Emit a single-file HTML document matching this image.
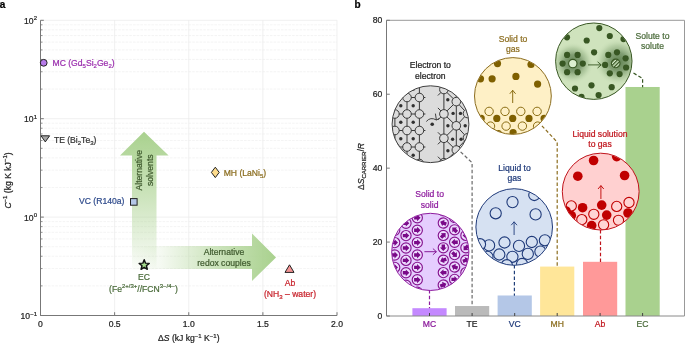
<!DOCTYPE html>
<html><head><meta charset="utf-8"><style>
html,body{margin:0;padding:0;background:#fff;}
body{width:685px;height:343px;overflow:hidden;}
svg{display:block;will-change:transform;}
text{font-family:"Liberation Sans",sans-serif;}
</style></head><body>
<svg width="685" height="343" viewBox="0 0 685 343" font-family="Liberation Sans, sans-serif">
<defs>
<linearGradient id="gv" gradientUnits="userSpaceOnUse" x1="0" y1="272" x2="0" y2="131.7"><stop offset="0" stop-color="#a9d18e" stop-opacity="0"/><stop offset="0.2" stop-color="#a9d18e" stop-opacity="0.25"/><stop offset="0.55" stop-color="#a9d18e" stop-opacity="0.6"/><stop offset="1" stop-color="#a9d18e" stop-opacity="1"/></linearGradient>
<linearGradient id="gh" gradientUnits="userSpaceOnUse" x1="132" y1="0" x2="276" y2="0"><stop offset="0" stop-color="#a9d18e" stop-opacity="0"/><stop offset="0.2" stop-color="#a9d18e" stop-opacity="0.12"/><stop offset="0.55" stop-color="#a9d18e" stop-opacity="0.55"/><stop offset="1" stop-color="#a9d18e" stop-opacity="1"/></linearGradient>
<clipPath id="cg"><circle cx="430.5" cy="124.2" r="38.1"/></clipPath><clipPath id="cy"><circle cx="512.9" cy="96.0" r="38.1"/></clipPath><clipPath id="ce"><circle cx="593.8" cy="61.2" r="37.900000000000006"/></clipPath><radialGradient id="halo"><stop offset="0" stop-color="#587a48" stop-opacity="0.95"/><stop offset="0.4" stop-color="#67875a" stop-opacity="0.75"/><stop offset="0.72" stop-color="#8fae7f" stop-opacity="0.38"/><stop offset="1" stop-color="#cfe3bd" stop-opacity="0"/></radialGradient><pattern id="stripe" width="2.6" height="2.6" patternUnits="userSpaceOnUse" patternTransform="rotate(45)"><rect width="2.6" height="2.6" fill="#d8eecb"/><rect width="1.3" height="2.6" fill="#385723"/></pattern><clipPath id="cr"><circle cx="600.7" cy="191.6" r="38.1"/></clipPath><clipPath id="cl"><circle cx="514.2" cy="227.0" r="38.0"/></clipPath><clipPath id="cp"><circle cx="430.3" cy="251.9" r="38.300000000000004"/></clipPath></defs>
<rect width="685" height="343" fill="#fff"/>
<line x1="40.5" x2="337.0" y1="285.88" y2="285.88" stroke="#ececec" stroke-width="0.6" stroke-dasharray="2.6 1.1"/>
<line x1="40.5" x2="337.0" y1="268.55" y2="268.55" stroke="#ececec" stroke-width="0.6" stroke-dasharray="2.6 1.1"/>
<line x1="40.5" x2="337.0" y1="256.26" y2="256.26" stroke="#ececec" stroke-width="0.6" stroke-dasharray="2.6 1.1"/>
<line x1="40.5" x2="337.0" y1="246.72" y2="246.72" stroke="#ececec" stroke-width="0.6" stroke-dasharray="2.6 1.1"/>
<line x1="40.5" x2="337.0" y1="238.93" y2="238.93" stroke="#ececec" stroke-width="0.6" stroke-dasharray="2.6 1.1"/>
<line x1="40.5" x2="337.0" y1="232.34" y2="232.34" stroke="#ececec" stroke-width="0.6" stroke-dasharray="2.6 1.1"/>
<line x1="40.5" x2="337.0" y1="226.64" y2="226.64" stroke="#ececec" stroke-width="0.6" stroke-dasharray="2.6 1.1"/>
<line x1="40.5" x2="337.0" y1="221.60" y2="221.60" stroke="#ececec" stroke-width="0.6" stroke-dasharray="2.6 1.1"/>
<line x1="40.5" x2="337.0" y1="187.48" y2="187.48" stroke="#ececec" stroke-width="0.6" stroke-dasharray="2.6 1.1"/>
<line x1="40.5" x2="337.0" y1="170.15" y2="170.15" stroke="#ececec" stroke-width="0.6" stroke-dasharray="2.6 1.1"/>
<line x1="40.5" x2="337.0" y1="157.86" y2="157.86" stroke="#ececec" stroke-width="0.6" stroke-dasharray="2.6 1.1"/>
<line x1="40.5" x2="337.0" y1="148.32" y2="148.32" stroke="#ececec" stroke-width="0.6" stroke-dasharray="2.6 1.1"/>
<line x1="40.5" x2="337.0" y1="140.53" y2="140.53" stroke="#ececec" stroke-width="0.6" stroke-dasharray="2.6 1.1"/>
<line x1="40.5" x2="337.0" y1="133.94" y2="133.94" stroke="#ececec" stroke-width="0.6" stroke-dasharray="2.6 1.1"/>
<line x1="40.5" x2="337.0" y1="128.24" y2="128.24" stroke="#ececec" stroke-width="0.6" stroke-dasharray="2.6 1.1"/>
<line x1="40.5" x2="337.0" y1="123.20" y2="123.20" stroke="#ececec" stroke-width="0.6" stroke-dasharray="2.6 1.1"/>
<line x1="40.5" x2="337.0" y1="89.08" y2="89.08" stroke="#ececec" stroke-width="0.6" stroke-dasharray="2.6 1.1"/>
<line x1="40.5" x2="337.0" y1="71.75" y2="71.75" stroke="#ececec" stroke-width="0.6" stroke-dasharray="2.6 1.1"/>
<line x1="40.5" x2="337.0" y1="59.46" y2="59.46" stroke="#ececec" stroke-width="0.6" stroke-dasharray="2.6 1.1"/>
<line x1="40.5" x2="337.0" y1="49.92" y2="49.92" stroke="#ececec" stroke-width="0.6" stroke-dasharray="2.6 1.1"/>
<line x1="40.5" x2="337.0" y1="42.13" y2="42.13" stroke="#ececec" stroke-width="0.6" stroke-dasharray="2.6 1.1"/>
<line x1="40.5" x2="337.0" y1="35.54" y2="35.54" stroke="#ececec" stroke-width="0.6" stroke-dasharray="2.6 1.1"/>
<line x1="40.5" x2="337.0" y1="29.84" y2="29.84" stroke="#ececec" stroke-width="0.6" stroke-dasharray="2.6 1.1"/>
<line x1="40.5" x2="337.0" y1="24.80" y2="24.80" stroke="#ececec" stroke-width="0.6" stroke-dasharray="2.6 1.1"/>
<line x1="40.5" x2="337.0" y1="217.10" y2="217.10" stroke="#e9e9e9" stroke-width="0.7"/>
<line x1="40.5" x2="337.0" y1="118.70" y2="118.70" stroke="#e9e9e9" stroke-width="0.7"/>
<line x1="40.5" x2="337.0" y1="20.30" y2="20.30" stroke="#e9e9e9" stroke-width="0.7"/>
<line x1="114.62" x2="114.62" y1="20.3" y2="315.5" stroke="#e9e9e9" stroke-width="0.7"/>
<line x1="188.75" x2="188.75" y1="20.3" y2="315.5" stroke="#e9e9e9" stroke-width="0.7"/>
<line x1="262.88" x2="262.88" y1="20.3" y2="315.5" stroke="#e9e9e9" stroke-width="0.7"/>
<line x1="337.00" x2="337.00" y1="20.3" y2="315.5" stroke="#e9e9e9" stroke-width="0.7"/>
<path d="M132,270 L132,155.6 L120,155.6 L144,131.7 L168.6,155.6 L156.5,155.6 L156.5,270 Z" fill="url(#gv)"/>
<path d="M132,246 L252,246 L252,233.6 L276,257.4 L252,281 L252,269 L132,269 Z" fill="url(#gh)"/>
<line x1="40.5" x2="40.5" y1="20.3" y2="315.5" stroke="#777" stroke-width="1"/>
<line x1="40.5" x2="337.0" y1="315.5" y2="315.5" stroke="#777" stroke-width="1"/>
<line x1="40.5" x2="43.8" y1="315.50" y2="315.50" stroke="#777" stroke-width="1"/>
<line x1="40.5" x2="43.8" y1="217.10" y2="217.10" stroke="#777" stroke-width="1"/>
<line x1="40.5" x2="43.8" y1="118.70" y2="118.70" stroke="#777" stroke-width="1"/>
<line x1="40.5" x2="43.8" y1="20.30" y2="20.30" stroke="#777" stroke-width="1"/>
<line x1="40.5" x2="42.5" y1="285.88" y2="285.88" stroke="#777" stroke-width="0.8"/>
<line x1="40.5" x2="42.5" y1="268.55" y2="268.55" stroke="#777" stroke-width="0.8"/>
<line x1="40.5" x2="42.5" y1="256.26" y2="256.26" stroke="#777" stroke-width="0.8"/>
<line x1="40.5" x2="42.5" y1="246.72" y2="246.72" stroke="#777" stroke-width="0.8"/>
<line x1="40.5" x2="42.5" y1="238.93" y2="238.93" stroke="#777" stroke-width="0.8"/>
<line x1="40.5" x2="42.5" y1="232.34" y2="232.34" stroke="#777" stroke-width="0.8"/>
<line x1="40.5" x2="42.5" y1="226.64" y2="226.64" stroke="#777" stroke-width="0.8"/>
<line x1="40.5" x2="42.5" y1="221.60" y2="221.60" stroke="#777" stroke-width="0.8"/>
<line x1="40.5" x2="42.5" y1="187.48" y2="187.48" stroke="#777" stroke-width="0.8"/>
<line x1="40.5" x2="42.5" y1="170.15" y2="170.15" stroke="#777" stroke-width="0.8"/>
<line x1="40.5" x2="42.5" y1="157.86" y2="157.86" stroke="#777" stroke-width="0.8"/>
<line x1="40.5" x2="42.5" y1="148.32" y2="148.32" stroke="#777" stroke-width="0.8"/>
<line x1="40.5" x2="42.5" y1="140.53" y2="140.53" stroke="#777" stroke-width="0.8"/>
<line x1="40.5" x2="42.5" y1="133.94" y2="133.94" stroke="#777" stroke-width="0.8"/>
<line x1="40.5" x2="42.5" y1="128.24" y2="128.24" stroke="#777" stroke-width="0.8"/>
<line x1="40.5" x2="42.5" y1="123.20" y2="123.20" stroke="#777" stroke-width="0.8"/>
<line x1="40.5" x2="42.5" y1="89.08" y2="89.08" stroke="#777" stroke-width="0.8"/>
<line x1="40.5" x2="42.5" y1="71.75" y2="71.75" stroke="#777" stroke-width="0.8"/>
<line x1="40.5" x2="42.5" y1="59.46" y2="59.46" stroke="#777" stroke-width="0.8"/>
<line x1="40.5" x2="42.5" y1="49.92" y2="49.92" stroke="#777" stroke-width="0.8"/>
<line x1="40.5" x2="42.5" y1="42.13" y2="42.13" stroke="#777" stroke-width="0.8"/>
<line x1="40.5" x2="42.5" y1="35.54" y2="35.54" stroke="#777" stroke-width="0.8"/>
<line x1="40.5" x2="42.5" y1="29.84" y2="29.84" stroke="#777" stroke-width="0.8"/>
<line x1="40.5" x2="42.5" y1="24.80" y2="24.80" stroke="#777" stroke-width="0.8"/>
<line x1="40.50" x2="40.50" y1="315.5" y2="312.2" stroke="#777" stroke-width="1"/>
<line x1="114.62" x2="114.62" y1="315.5" y2="312.2" stroke="#777" stroke-width="1"/>
<line x1="188.75" x2="188.75" y1="315.5" y2="312.2" stroke="#777" stroke-width="1"/>
<line x1="262.88" x2="262.88" y1="315.5" y2="312.2" stroke="#777" stroke-width="1"/>
<line x1="337.00" x2="337.00" y1="315.5" y2="312.2" stroke="#777" stroke-width="1"/>
<text x="37.0" y="23.90" font-size="8.6" text-anchor="end" fill="#222" stroke="#222" stroke-width="0.22">10<tspan font-size="6" dy="-3.6">2</tspan></text>
<text x="37.0" y="122.30" font-size="8.6" text-anchor="end" fill="#222" stroke="#222" stroke-width="0.22">10<tspan font-size="6" dy="-3.6">1</tspan></text>
<text x="37.0" y="220.70" font-size="8.6" text-anchor="end" fill="#222" stroke="#222" stroke-width="0.22">10<tspan font-size="6" dy="-3.6">0</tspan></text>
<text x="37.0" y="319.10" font-size="8.6" text-anchor="end" fill="#222" stroke="#222" stroke-width="0.22">10<tspan font-size="6" dy="-3.6">−1</tspan></text>
<text x="40.50" y="326.6" font-size="8.6" text-anchor="middle" fill="#222" stroke="#222" stroke-width="0.22">0</text>
<text x="114.62" y="326.6" font-size="8.6" text-anchor="middle" fill="#222" stroke="#222" stroke-width="0.22">0.5</text>
<text x="188.75" y="326.6" font-size="8.6" text-anchor="middle" fill="#222" stroke="#222" stroke-width="0.22">1.0</text>
<text x="262.88" y="326.6" font-size="8.6" text-anchor="middle" fill="#222" stroke="#222" stroke-width="0.22">1.5</text>
<text x="337.00" y="326.6" font-size="8.6" text-anchor="middle" fill="#222" stroke="#222" stroke-width="0.22">2.0</text>
<text x="188.8" y="341" font-size="8.6" text-anchor="middle" fill="#222" stroke="#222" stroke-width="0.22">Δ<tspan font-style="italic">S</tspan> (kJ kg<tspan font-size="6" dy="-3.4">−1</tspan><tspan dy="3.4"> K</tspan><tspan font-size="6" dy="-3.4">−1</tspan><tspan dy="3.4">)</tspan></text>
<text transform="translate(10.5,180.5) rotate(-90)" font-size="8.6" text-anchor="middle" fill="#222" stroke="#222" stroke-width="0.22"><tspan font-style="italic">C</tspan><tspan font-size="6" dy="-3.4">−1</tspan><tspan dy="3.4"> (kg K kJ</tspan><tspan font-size="6" dy="-3.4">−1</tspan><tspan dy="3.4">)</tspan></text>
<text x="-0.3" y="7.7" font-size="10" font-weight="bold" fill="#000" stroke="#000" stroke-width="0.22">a</text>
<text x="354.5" y="7.8" font-size="10" font-weight="bold" fill="#000" stroke="#000" stroke-width="0.22">b</text>
<circle cx="43.7" cy="62.8" r="3.4" fill="#b67ae8" stroke="#222" stroke-width="1"/>
<text x="52.5" y="66.3" font-size="8.6" fill="#9b2fae" stroke="#9b2fae" stroke-width="0.22">MC (Gd<tspan font-size="6" dy="2">5</tspan><tspan dy="-2">Si</tspan><tspan font-size="6" dy="2">2</tspan><tspan dy="-2">Ge</tspan><tspan font-size="6" dy="2">2</tspan><tspan dy="-2">)</tspan></text>
<path d="M41,135.8 L49.6,135.8 L45.3,141.9 Z" fill="#a6a6a6" stroke="#222" stroke-width="1" stroke-linejoin="miter"/>
<text x="53.9" y="142.6" font-size="8.6" fill="#333" stroke="#333" stroke-width="0.22">TE (Bi<tspan font-size="6" dy="2">2</tspan><tspan dy="-2">Te</tspan><tspan font-size="6" dy="2">3</tspan><tspan dy="-2">)</tspan></text>
<rect x="130.5" y="198.6" width="6.6" height="6.6" fill="#b4c7e7" stroke="#222" stroke-width="1"/>
<text x="79" y="204.4" font-size="8.6" fill="#2f4b8c" stroke="#2f4b8c" stroke-width="0.22">VC (R140a)</text>
<path d="M215.3,167.2 L219.2,172.4 L215.3,177.6 L211.4,172.4 Z" fill="#fedc8c" stroke="#222" stroke-width="1"/>
<text x="223.7" y="176.3" font-size="8.6" fill="#8b6d1e" stroke="#8b6d1e" stroke-width="0.22">MH (LaNi<tspan font-size="6" dy="2">5</tspan><tspan dy="-2">)</tspan></text>
<path d="M144.20,259.70 L145.55,263.14 L149.24,263.36 L146.39,265.71 L147.32,269.29 L144.20,267.30 L141.08,269.29 L142.01,265.71 L139.16,263.36 L142.85,263.14 Z" fill="#a5dc8c" stroke="#111" stroke-width="1.45" stroke-linejoin="round"/>
<text x="144" y="279.7" font-size="8.6" text-anchor="middle" fill="#4a6b3a" stroke="#4a6b3a" stroke-width="0.22">EC</text>
<text x="143.5" y="291.5" font-size="8.6" text-anchor="middle" fill="#4a6b3a" stroke="#4a6b3a" stroke-width="0.22">(Fe<tspan font-size="6" dy="-3.4">2+/3+</tspan><tspan dy="3.4">//FCN</tspan><tspan font-size="6" dy="-3.4">3−/4−</tspan><tspan dy="3.4">)</tspan></text>
<path d="M289.5,264.8 L294,272.4 L285,272.4 Z" fill="#f49494" stroke="#222" stroke-width="1"/>
<text x="290" y="286.2" font-size="8.6" text-anchor="middle" fill="#c8232c" stroke="#c8232c" stroke-width="0.22">Ab</text>
<text x="290" y="297" font-size="8.6" text-anchor="middle" fill="#c8232c" stroke="#c8232c" stroke-width="0.22">(NH<tspan font-size="6" dy="2">3</tspan><tspan dy="-2"> – water)</tspan></text>
<text transform="translate(142.3,170.2) rotate(-90)" font-size="8.6" text-anchor="middle" fill="#3f5a2e" stroke="#3f5a2e" stroke-width="0.22">Alternative</text>
<text transform="translate(153.2,170.2) rotate(-90)" font-size="8.6" text-anchor="middle" fill="#3f5a2e" stroke="#3f5a2e" stroke-width="0.22">solvents</text>
<text x="224" y="255.1" font-size="8.6" text-anchor="middle" fill="#3f5a2e" stroke="#3f5a2e" stroke-width="0.22">Alternative</text>
<text x="224" y="265.7" font-size="8.6" text-anchor="middle" fill="#3f5a2e" stroke="#3f5a2e" stroke-width="0.22">redox couples</text>
<line x1="386.5" x2="684.5" y1="20.3" y2="20.3" stroke="#999" stroke-width="1"/>
<line x1="684.5" x2="684.5" y1="20.3" y2="316.0" stroke="#999" stroke-width="1"/>
<rect x="412.40" y="308.20" width="34.2" height="7.80" fill="#c489ff"/>
<rect x="455.00" y="306.02" width="34.2" height="9.98" fill="#bababa"/>
<rect x="497.60" y="295.49" width="34.2" height="20.51" fill="#b4c7e7"/>
<rect x="540.10" y="266.58" width="34.2" height="49.42" fill="#ffe699"/>
<rect x="583.00" y="261.81" width="34.2" height="54.19" fill="#ff9999"/>
<rect x="625.50" y="86.98" width="34.2" height="229.02" fill="#a9d18e"/>
<path d="M429.50,290.00 L429.50,308.20" fill="none" stroke="#8e1c9e" stroke-width="1.2" stroke-dasharray="3.5 2.2"/>
<path d="M460.60,151.90 L472.10,162.70 L472.10,306.20" fill="none" stroke="#6a6a6a" stroke-width="1.2" stroke-dasharray="3.5 2.2"/>
<path d="M514.40,265.00 L514.40,295.80" fill="none" stroke="#203f7a" stroke-width="1.2" stroke-dasharray="3.5 2.2"/>
<path d="M541.90,125.80 L557.20,142.10 L557.20,266.80" fill="none" stroke="#8c6d1f" stroke-width="1.2" stroke-dasharray="3.5 2.2"/>
<path d="M600.50,230.00 L600.50,262.00" fill="none" stroke="#c0141c" stroke-width="1.2" stroke-dasharray="3.5 2.2"/>
<path d="M633.50,73.10 L642.60,78.50 L642.60,87.20" fill="none" stroke="#385723" stroke-width="1.2" stroke-dasharray="3.5 2.2"/>
<line x1="386.5" x2="386.5" y1="20.3" y2="316.0" stroke="#777" stroke-width="1"/>
<line x1="386.5" x2="684.5" y1="316.0" y2="316.0" stroke="#8a8a8a" stroke-width="1"/>
<line x1="386.5" x2="389.8" y1="316.00" y2="316.00" stroke="#777" stroke-width="1"/>
<text x="382.2" y="318.80" font-size="8.6" text-anchor="end" fill="#222" stroke="#222" stroke-width="0.22">0</text>
<line x1="386.5" x2="389.8" y1="242.07" y2="242.07" stroke="#777" stroke-width="1"/>
<text x="382.2" y="244.88" font-size="8.6" text-anchor="end" fill="#222" stroke="#222" stroke-width="0.22">20</text>
<line x1="386.5" x2="389.8" y1="168.15" y2="168.15" stroke="#777" stroke-width="1"/>
<text x="382.2" y="170.95" font-size="8.6" text-anchor="end" fill="#222" stroke="#222" stroke-width="0.22">40</text>
<line x1="386.5" x2="389.8" y1="94.22" y2="94.22" stroke="#777" stroke-width="1"/>
<text x="382.2" y="97.02" font-size="8.6" text-anchor="end" fill="#222" stroke="#222" stroke-width="0.22">60</text>
<line x1="386.5" x2="389.8" y1="20.30" y2="20.30" stroke="#777" stroke-width="1"/>
<text x="382.2" y="23.10" font-size="8.6" text-anchor="end" fill="#222" stroke="#222" stroke-width="0.22">80</text>
<line x1="429.5" x2="429.5" y1="316.0" y2="313.0" stroke="#444" stroke-width="1"/>
<text x="429.5" y="327.3" font-size="8.6" text-anchor="middle" fill="#8b1a9b" stroke="#8b1a9b" stroke-width="0.22">MC</text>
<line x1="472.1" x2="472.1" y1="316.0" y2="313.0" stroke="#444" stroke-width="1"/>
<text x="472.1" y="327.3" font-size="8.6" text-anchor="middle" fill="#222" stroke="#222" stroke-width="0.22">TE</text>
<line x1="514.7" x2="514.7" y1="316.0" y2="313.0" stroke="#444" stroke-width="1"/>
<text x="514.7" y="327.3" font-size="8.6" text-anchor="middle" fill="#1f3a7a" stroke="#1f3a7a" stroke-width="0.22">VC</text>
<line x1="557.2" x2="557.2" y1="316.0" y2="313.0" stroke="#444" stroke-width="1"/>
<text x="557.2" y="327.3" font-size="8.6" text-anchor="middle" fill="#8b6d1e" stroke="#8b6d1e" stroke-width="0.22">MH</text>
<line x1="600.1" x2="600.1" y1="316.0" y2="313.0" stroke="#444" stroke-width="1"/>
<text x="600.1" y="327.3" font-size="8.6" text-anchor="middle" fill="#c0141c" stroke="#c0141c" stroke-width="0.22">Ab</text>
<line x1="642.6" x2="642.6" y1="316.0" y2="313.0" stroke="#444" stroke-width="1"/>
<text x="642.6" y="327.3" font-size="8.6" text-anchor="middle" fill="#4a6b3a" stroke="#4a6b3a" stroke-width="0.22">EC</text>
<text transform="translate(364,166.5) rotate(-90)" font-size="8.6" text-anchor="middle" fill="#222" stroke="#222" stroke-width="0.22">Δ<tspan font-style="italic">S</tspan><tspan font-size="6" dy="2">CARRIER</tspan><tspan dy="-2">/</tspan><tspan font-style="italic">R</tspan></text>
<circle cx="430.5" cy="124.2" r="38.4" fill="#dcdcdc"/>
<g clip-path="url(#cg)" stroke="#383838" stroke-width="1" fill="#dcdcdc">
<line x1="382.6" x2="425.4" y1="81.0" y2="81.0"/>
<line x1="382.6" x2="425.4" y1="97.5" y2="97.5"/>
<line x1="382.6" x2="425.4" y1="114.0" y2="114.0"/>
<line x1="382.6" x2="425.4" y1="130.5" y2="130.5"/>
<line x1="382.6" x2="425.4" y1="147.0" y2="147.0"/>
<line x1="382.6" x2="425.4" y1="163.5" y2="163.5"/>
<line x1="382.6" x2="382.6" y1="80" y2="170"/>
<line x1="394.9" x2="394.9" y1="80" y2="170"/>
<line x1="407.0" x2="407.0" y1="80" y2="170"/>
<line x1="419.4" x2="419.4" y1="80" y2="170"/>
<circle cx="382.6" cy="81.0" r="4.3"/>
<circle cx="382.6" cy="97.5" r="4.3"/>
<circle cx="382.6" cy="114.0" r="4.3"/>
<circle cx="382.6" cy="130.5" r="4.3"/>
<circle cx="382.6" cy="147.0" r="4.3"/>
<circle cx="382.6" cy="163.5" r="4.3"/>
<circle cx="394.9" cy="81.0" r="4.3"/>
<circle cx="394.9" cy="97.5" r="4.3"/>
<circle cx="394.9" cy="114.0" r="4.3"/>
<circle cx="394.9" cy="130.5" r="4.3"/>
<circle cx="394.9" cy="147.0" r="4.3"/>
<circle cx="394.9" cy="163.5" r="4.3"/>
<circle cx="407.0" cy="81.0" r="4.3"/>
<circle cx="407.0" cy="97.5" r="4.3"/>
<circle cx="407.0" cy="114.0" r="4.3"/>
<circle cx="407.0" cy="130.5" r="4.3"/>
<circle cx="407.0" cy="147.0" r="4.3"/>
<circle cx="407.0" cy="163.5" r="4.3"/>
<circle cx="419.4" cy="81.0" r="4.3"/>
<circle cx="419.4" cy="97.5" r="4.3"/>
<circle cx="419.4" cy="114.0" r="4.3"/>
<circle cx="419.4" cy="130.5" r="4.3"/>
<circle cx="419.4" cy="147.0" r="4.3"/>
<circle cx="419.4" cy="163.5" r="4.3"/>
</g>
<g fill="#303030" clip-path="url(#cg)">
<circle cx="388.6" cy="89.2" r="1.7"/>
<circle cx="388.6" cy="105.8" r="1.7"/>
<circle cx="388.6" cy="122.2" r="1.7"/>
<circle cx="388.6" cy="138.7" r="1.7"/>
<circle cx="388.6" cy="155.2" r="1.7"/>
<circle cx="400.8" cy="89.2" r="1.7"/>
<circle cx="400.8" cy="105.8" r="1.7"/>
<circle cx="400.8" cy="122.2" r="1.7"/>
<circle cx="400.8" cy="138.7" r="1.7"/>
<circle cx="400.8" cy="155.2" r="1.7"/>
<circle cx="413.2" cy="89.2" r="1.7"/>
<circle cx="413.2" cy="105.8" r="1.7"/>
<circle cx="413.2" cy="122.2" r="1.7"/>
<circle cx="413.2" cy="138.7" r="1.7"/>
<circle cx="413.2" cy="155.2" r="1.7"/>
</g>
<g clip-path="url(#cg)" stroke="#383838" stroke-width="1" fill="#dcdcdc">
<line x1="443.9" x2="443.9" y1="80" y2="170"/>
<line x1="456.3" x2="456.3" y1="77.4" y2="101.60000000000001"/>
<line x1="456.3" x2="456.3" y1="101.60000000000001" y2="125.80000000000001"/>
<line x1="456.3" x2="456.3" y1="125.80000000000001" y2="150.0"/>
<line x1="456.3" x2="456.3" y1="150.0" y2="174.2"/>
<line x1="456.3" x2="456.3" y1="174.2" y2="198.39999999999998"/>
<line x1="443.9" y1="65.1" x2="456.29999999999995" y2="77.19999999999999"/>
<line x1="443.9" y1="65.1" x2="456.29999999999995" y2="52.99999999999999"/>
<line x1="443.9" y1="65.1" x2="437.9" y2="59.099999999999994"/>
<line x1="443.9" y1="65.1" x2="437.9" y2="71.1"/>
<line x1="443.9" y1="89.5" x2="456.29999999999995" y2="101.6"/>
<line x1="443.9" y1="89.5" x2="456.29999999999995" y2="77.4"/>
<line x1="443.9" y1="89.5" x2="437.9" y2="83.5"/>
<line x1="443.9" y1="89.5" x2="437.9" y2="95.5"/>
<line x1="443.9" y1="113.9" x2="456.29999999999995" y2="126.0"/>
<line x1="443.9" y1="113.9" x2="456.29999999999995" y2="101.80000000000001"/>
<line x1="443.9" y1="113.9" x2="437.9" y2="107.9"/>
<line x1="443.9" y1="113.9" x2="437.9" y2="119.9"/>
<line x1="443.9" y1="138.3" x2="456.29999999999995" y2="150.4"/>
<line x1="443.9" y1="138.3" x2="456.29999999999995" y2="126.20000000000002"/>
<line x1="443.9" y1="138.3" x2="437.9" y2="132.3"/>
<line x1="443.9" y1="138.3" x2="437.9" y2="144.3"/>
<line x1="443.9" y1="162.7" x2="456.29999999999995" y2="174.79999999999998"/>
<line x1="443.9" y1="162.7" x2="456.29999999999995" y2="150.6"/>
<line x1="443.9" y1="162.7" x2="437.9" y2="156.7"/>
<line x1="443.9" y1="162.7" x2="437.9" y2="168.7"/>
<line x1="456.3" y1="77.4" x2="467.3" y2="89.4"/>
<line x1="456.3" y1="77.4" x2="467.3" y2="65.4"/>
<line x1="456.3" y1="101.60000000000001" x2="467.3" y2="113.60000000000001"/>
<line x1="456.3" y1="101.60000000000001" x2="467.3" y2="89.60000000000001"/>
<line x1="456.3" y1="125.80000000000001" x2="467.3" y2="137.8"/>
<line x1="456.3" y1="125.80000000000001" x2="467.3" y2="113.80000000000001"/>
<line x1="456.3" y1="150.0" x2="467.3" y2="162.0"/>
<line x1="456.3" y1="150.0" x2="467.3" y2="138.0"/>
<line x1="456.3" y1="174.2" x2="467.3" y2="186.2"/>
<line x1="456.3" y1="174.2" x2="467.3" y2="162.2"/>
<circle cx="443.9" cy="65.1" r="4.3"/>
<circle cx="443.9" cy="89.5" r="4.3"/>
<circle cx="443.9" cy="113.9" r="4.3"/>
<circle cx="443.9" cy="138.3" r="4.3"/>
<circle cx="443.9" cy="162.7" r="4.3"/>
<circle cx="456.3" cy="77.4" r="4.3"/>
<circle cx="456.3" cy="101.60000000000001" r="4.3"/>
<circle cx="456.3" cy="125.80000000000001" r="4.3"/>
<circle cx="456.3" cy="150.0" r="4.3"/>
<circle cx="456.3" cy="174.2" r="4.3"/>
<circle cx="467.5" cy="113.5" r="4.3"/>
<circle cx="467.5" cy="137.8" r="4.3"/>
</g>
<g fill="#303030" clip-path="url(#cg)">
<circle cx="447.8" cy="99.7" r="1.7"/>
<circle cx="453.1" cy="113.4" r="1.7"/>
<circle cx="460.5" cy="113.4" r="1.7"/>
<circle cx="447.9" cy="125.8" r="1.7"/>
<circle cx="465.2" cy="125.8" r="1.7"/>
<circle cx="452.6" cy="139.3" r="1.7"/>
<circle cx="461.1" cy="139.3" r="1.7"/>
<circle cx="447.9" cy="150.8" r="1.7"/>
<circle cx="460.5" cy="89.5" r="1.7"/>
<circle cx="452.6" cy="88" r="1.7"/>
<circle cx="432.2" cy="124.2" r="1.8"/>
</g>
<path d="M426.3,121.5 Q430.5,116.5 436.4,120" fill="none" stroke="#303030" stroke-width="0.9"/>
<path d="M435.4,113.6 L436.4,120 L439.2,118.5" fill="none" stroke="#303030" stroke-width="0.9"/>
<circle cx="430.5" cy="124.2" r="38.4" fill="none" stroke="#404040" stroke-width="1"/>
<text x="430.3" y="68.4" font-size="8.6" text-anchor="middle" fill="#222" stroke="#222" stroke-width="0.22">Electron to</text>
<text x="430.3" y="78.7" font-size="8.6" text-anchor="middle" fill="#222" stroke="#222" stroke-width="0.22">electron</text>
<circle cx="512.9" cy="96.0" r="38.4" fill="#fef0c6"/>
<g clip-path="url(#cy)">
<circle cx="497.5" cy="63.6" r="3.6" fill="#7f6000"/>
<circle cx="531" cy="64.5" r="3.6" fill="#7f6000"/>
<circle cx="480.5" cy="78.8" r="3.6" fill="#7f6000"/>
<circle cx="492.1" cy="78.8" r="3.6" fill="#7f6000"/>
<circle cx="515.9" cy="76.4" r="3.6" fill="#7f6000"/>
<circle cx="537.6" cy="84.1" r="3.6" fill="#7f6000"/>
<circle cx="481.2" cy="118.4" r="3.6" fill="#7f6000"/>
<circle cx="496.8" cy="118.4" r="3.6" fill="#7f6000"/>
<circle cx="512.7" cy="118.4" r="3.6" fill="#7f6000"/>
<circle cx="529" cy="118.4" r="3.6" fill="#7f6000"/>
<circle cx="544.1" cy="118.4" r="3.6" fill="#7f6000"/>
<circle cx="513.1" cy="132.5" r="3.6" fill="#7f6000"/>
<circle cx="498.3" cy="133.6" r="3.6" fill="#7f6000"/>
<circle cx="545" cy="133" r="3.6" fill="#7f6000"/>
<circle cx="489.1" cy="111.4" r="4.2" fill="#fef0c6" stroke="#7f6000" stroke-width="0.9"/>
<circle cx="505" cy="111.4" r="4.2" fill="#fef0c6" stroke="#7f6000" stroke-width="0.9"/>
<circle cx="520.8" cy="111.4" r="4.2" fill="#fef0c6" stroke="#7f6000" stroke-width="0.9"/>
<circle cx="537.1" cy="111.4" r="4.2" fill="#fef0c6" stroke="#7f6000" stroke-width="0.9"/>
<circle cx="490.5" cy="126.1" r="4.2" fill="#fef0c6" stroke="#7f6000" stroke-width="0.9"/>
<circle cx="506.1" cy="126.1" r="4.2" fill="#fef0c6" stroke="#7f6000" stroke-width="0.9"/>
<circle cx="522.4" cy="126.1" r="4.2" fill="#fef0c6" stroke="#7f6000" stroke-width="0.9"/>
<circle cx="537.6" cy="126.1" r="4.2" fill="#fef0c6" stroke="#7f6000" stroke-width="0.9"/>
<circle cx="475" cy="126" r="4.2" fill="#fef0c6" stroke="#7f6000" stroke-width="0.9"/>
</g>
<path d="M512.7,103 L512.7,90.3 M509.8,93.8 L512.7,90.3 L515.6,93.8" fill="none" stroke="#7f6000" stroke-width="0.9"/>
<circle cx="512.9" cy="96.0" r="38.4" fill="none" stroke="#8c6d1f" stroke-width="1"/>
<text x="513" y="41.5" font-size="8.6" text-anchor="middle" fill="#8c6d1f" stroke="#8c6d1f" stroke-width="0.22">Solid to</text>
<text x="513" y="51.8" font-size="8.6" text-anchor="middle" fill="#8c6d1f" stroke="#8c6d1f" stroke-width="0.22">gas</text>
<circle cx="593.8" cy="61.2" r="38.2" fill="#cfe3bd"/>
<g clip-path="url(#ce)">
<circle cx="572.8" cy="63" r="21" fill="url(#halo)"/>
<circle cx="618" cy="62" r="23.5" fill="url(#halo)"/>
<circle cx="567" cy="37.3" r="3.1" fill="#385723"/>
<circle cx="599.3" cy="28.1" r="3.1" fill="#385723"/>
<circle cx="586.7" cy="40.5" r="3.1" fill="#385723"/>
<circle cx="609.8" cy="36" r="3.1" fill="#385723"/>
<circle cx="623.5" cy="39.1" r="3.1" fill="#385723"/>
<circle cx="594.1" cy="52.3" r="3.1" fill="#385723"/>
<circle cx="567.1" cy="54.9" r="3.1" fill="#385723"/>
<circle cx="577.6" cy="54.9" r="3.1" fill="#385723"/>
<circle cx="562.6" cy="63.6" r="3.1" fill="#385723"/>
<circle cx="582.8" cy="63.6" r="3.1" fill="#385723"/>
<circle cx="567.1" cy="72.2" r="3.1" fill="#385723"/>
<circle cx="577.6" cy="72.2" r="3.1" fill="#385723"/>
<circle cx="608.3" cy="54.9" r="3.1" fill="#385723"/>
<circle cx="617" cy="52.3" r="3.1" fill="#385723"/>
<circle cx="625.6" cy="58.3" r="3.1" fill="#385723"/>
<circle cx="626.1" cy="67.5" r="3.1" fill="#385723"/>
<circle cx="619.6" cy="74.1" r="3.1" fill="#385723"/>
<circle cx="609.8" cy="73.3" r="3.1" fill="#385723"/>
<circle cx="605.1" cy="64.9" r="3.1" fill="#385723"/>
<circle cx="575" cy="88.5" r="3.1" fill="#385723"/>
<circle cx="591.5" cy="85.3" r="3.1" fill="#385723"/>
<circle cx="611.7" cy="87.2" r="3.1" fill="#385723"/>
<circle cx="598.6" cy="95" r="3.1" fill="#385723"/>
<circle cx="581.5" cy="96.9" r="3.1" fill="#385723"/>
</g>
<circle cx="572.8" cy="63.6" r="4.2" fill="#dcefd0" stroke="#385723" stroke-width="1.1"/>
<circle cx="615.7" cy="63.4" r="4.3" fill="url(#stripe)" stroke="#385723" stroke-width="1.1"/>
<path d="M588,64.9 L601.2,64.9 M597.6,61.8 L601.2,64.9 L597.6,68" fill="none" stroke="#385723" stroke-width="0.9"/>
<circle cx="593.8" cy="61.2" r="38.2" fill="none" stroke="#385723" stroke-width="1"/>
<text x="652.5" y="39.3" font-size="8.6" text-anchor="middle" fill="#4a6b3a" stroke="#4a6b3a" stroke-width="0.22">Solute to</text>
<text x="652.5" y="49.3" font-size="8.6" text-anchor="middle" fill="#4a6b3a" stroke="#4a6b3a" stroke-width="0.22">solute</text>
<circle cx="600.7" cy="191.6" r="38.4" fill="#ffd0d0"/>
<g clip-path="url(#cr)">
<circle cx="593.6" cy="160.5" r="4.8" fill="#c00000"/>
<circle cx="616.7" cy="156.6" r="4.8" fill="#c00000"/>
<circle cx="577.8" cy="176.2" r="4.8" fill="#c00000"/>
<circle cx="624.6" cy="175.5" r="4.8" fill="#c00000"/>
<circle cx="571.3" cy="205.9" r="5.1" fill="#ffd4d4" stroke="#c00000" stroke-width="1.1"/>
<circle cx="616.7" cy="206.4" r="5.1" fill="#ffd4d4" stroke="#c00000" stroke-width="1.1"/>
<circle cx="629" cy="202.5" r="5.1" fill="#ffd4d4" stroke="#c00000" stroke-width="1.1"/>
<circle cx="593.8" cy="214.3" r="5.1" fill="#ffd4d4" stroke="#c00000" stroke-width="1.1"/>
<circle cx="581.8" cy="219.6" r="5.1" fill="#ffd4d4" stroke="#c00000" stroke-width="1.1"/>
<circle cx="603.6" cy="224.8" r="5.1" fill="#ffd4d4" stroke="#c00000" stroke-width="1.1"/>
<circle cx="618.5" cy="220.3" r="5.1" fill="#ffd4d4" stroke="#c00000" stroke-width="1.1"/>
<circle cx="565" cy="222" r="5.1" fill="#ffd4d4" stroke="#c00000" stroke-width="1.1"/>
<circle cx="582.6" cy="207.7" r="4.8" fill="#c00000"/>
<circle cx="601.7" cy="205.1" r="4.8" fill="#c00000"/>
<circle cx="606.7" cy="215.1" r="4.8" fill="#c00000"/>
<circle cx="571.3" cy="215.6" r="4.8" fill="#c00000"/>
<circle cx="591.7" cy="225.6" r="4.8" fill="#c00000"/>
<circle cx="628" cy="213" r="4.8" fill="#c00000"/>
<circle cx="566" cy="211" r="4.8" fill="#c00000"/>
</g>
<path d="M600.9,199 L600.9,185.6 M598,189 L600.9,185.6 L603.8,189" fill="none" stroke="#c00000" stroke-width="0.9"/>
<circle cx="600.7" cy="191.6" r="38.4" fill="none" stroke="#c0141c" stroke-width="1"/>
<text x="600" y="136.8" font-size="8.6" text-anchor="middle" fill="#c0141c" stroke="#c0141c" stroke-width="0.22">Liquid solution</text>
<text x="600" y="147" font-size="8.6" text-anchor="middle" fill="#c0141c" stroke="#c0141c" stroke-width="0.22">to gas</text>
<circle cx="514.2" cy="227.0" r="38.3" fill="#d6e1f2"/>
<g clip-path="url(#cl)" fill="#d6e1f2" stroke="#1f3a7a" stroke-width="1.1">
<circle cx="512.5" cy="202.1" r="5.6"/>
<circle cx="495.7" cy="213.3" r="5.6"/>
<circle cx="535.6" cy="214.4" r="5.6"/>
<circle cx="534.3" cy="195" r="5.6"/>
<circle cx="489.1" cy="245.4" r="5.6"/>
<circle cx="504.5" cy="242.5" r="5.6"/>
<circle cx="519" cy="245.9" r="5.6"/>
<circle cx="531.8" cy="242" r="5.6"/>
<circle cx="544.9" cy="240.3" r="5.6"/>
<circle cx="499.3" cy="254.5" r="5.6"/>
<circle cx="512.4" cy="256.8" r="5.6"/>
<circle cx="527.8" cy="253.9" r="5.6"/>
<circle cx="540.4" cy="251.6" r="5.6"/>
<circle cx="506.8" cy="265.2" r="5.6"/>
<circle cx="522.1" cy="264" r="5.6"/>
<circle cx="480" cy="244.2" r="5.6"/>
<circle cx="487.4" cy="256.8" r="5.6"/>
<circle cx="551" cy="253" r="5.6"/>
</g>
<path d="M514.1,235 L514.1,221.8 M511.2,225.2 L514.1,221.8 L517,225.2" fill="none" stroke="#1f3a7a" stroke-width="0.9"/>
<circle cx="514.2" cy="227.0" r="38.3" fill="none" stroke="#1f3a7a" stroke-width="1"/>
<text x="514.5" y="171.2" font-size="8.6" text-anchor="middle" fill="#1f3a7a" stroke="#1f3a7a" stroke-width="0.22">Liquid to</text>
<text x="514.5" y="181.4" font-size="8.6" text-anchor="middle" fill="#1f3a7a" stroke="#1f3a7a" stroke-width="0.22">gas</text>
<circle cx="430.3" cy="251.9" r="38.6" fill="#e5cdfe"/>
<g clip-path="url(#cp)">
<g transform="translate(394.70,205.40) rotate(0)"><circle r="5.1" fill="#eddcff" stroke="#86148f" stroke-width="1.15"/><path d="M-3.2,-1.7 L-0.2,-1.7 L-0.2,-3.4 L3.3,0 L-0.2,3.4 L-0.2,1.7 L-3.2,1.7 Z" fill="#7a0a88"/></g>
<g transform="translate(394.70,217.80) rotate(0)"><circle r="5.1" fill="#eddcff" stroke="#86148f" stroke-width="1.15"/><path d="M-3.2,-1.7 L-0.2,-1.7 L-0.2,-3.4 L3.3,0 L-0.2,3.4 L-0.2,1.7 L-3.2,1.7 Z" fill="#7a0a88"/></g>
<g transform="translate(394.70,230.20) rotate(0)"><circle r="5.1" fill="#eddcff" stroke="#86148f" stroke-width="1.15"/><path d="M-3.2,-1.7 L-0.2,-1.7 L-0.2,-3.4 L3.3,0 L-0.2,3.4 L-0.2,1.7 L-3.2,1.7 Z" fill="#7a0a88"/></g>
<g transform="translate(394.70,242.60) rotate(0)"><circle r="5.1" fill="#eddcff" stroke="#86148f" stroke-width="1.15"/><path d="M-3.2,-1.7 L-0.2,-1.7 L-0.2,-3.4 L3.3,0 L-0.2,3.4 L-0.2,1.7 L-3.2,1.7 Z" fill="#7a0a88"/></g>
<g transform="translate(394.70,255.00) rotate(0)"><circle r="5.1" fill="#eddcff" stroke="#86148f" stroke-width="1.15"/><path d="M-3.2,-1.7 L-0.2,-1.7 L-0.2,-3.4 L3.3,0 L-0.2,3.4 L-0.2,1.7 L-3.2,1.7 Z" fill="#7a0a88"/></g>
<g transform="translate(394.70,267.40) rotate(0)"><circle r="5.1" fill="#eddcff" stroke="#86148f" stroke-width="1.15"/><path d="M-3.2,-1.7 L-0.2,-1.7 L-0.2,-3.4 L3.3,0 L-0.2,3.4 L-0.2,1.7 L-3.2,1.7 Z" fill="#7a0a88"/></g>
<g transform="translate(394.70,279.80) rotate(0)"><circle r="5.1" fill="#eddcff" stroke="#86148f" stroke-width="1.15"/><path d="M-3.2,-1.7 L-0.2,-1.7 L-0.2,-3.4 L3.3,0 L-0.2,3.4 L-0.2,1.7 L-3.2,1.7 Z" fill="#7a0a88"/></g>
<g transform="translate(394.70,292.20) rotate(0)"><circle r="5.1" fill="#eddcff" stroke="#86148f" stroke-width="1.15"/><path d="M-3.2,-1.7 L-0.2,-1.7 L-0.2,-3.4 L3.3,0 L-0.2,3.4 L-0.2,1.7 L-3.2,1.7 Z" fill="#7a0a88"/></g>
<g transform="translate(394.70,304.60) rotate(0)"><circle r="5.1" fill="#eddcff" stroke="#86148f" stroke-width="1.15"/><path d="M-3.2,-1.7 L-0.2,-1.7 L-0.2,-3.4 L3.3,0 L-0.2,3.4 L-0.2,1.7 L-3.2,1.7 Z" fill="#7a0a88"/></g>
<g transform="translate(406.00,210.80) rotate(0)"><circle r="5.1" fill="#eddcff" stroke="#86148f" stroke-width="1.15"/><path d="M-3.2,-1.7 L-0.2,-1.7 L-0.2,-3.4 L3.3,0 L-0.2,3.4 L-0.2,1.7 L-3.2,1.7 Z" fill="#7a0a88"/></g>
<g transform="translate(406.00,223.20) rotate(0)"><circle r="5.1" fill="#eddcff" stroke="#86148f" stroke-width="1.15"/><path d="M-3.2,-1.7 L-0.2,-1.7 L-0.2,-3.4 L3.3,0 L-0.2,3.4 L-0.2,1.7 L-3.2,1.7 Z" fill="#7a0a88"/></g>
<g transform="translate(406.00,235.60) rotate(0)"><circle r="5.1" fill="#eddcff" stroke="#86148f" stroke-width="1.15"/><path d="M-3.2,-1.7 L-0.2,-1.7 L-0.2,-3.4 L3.3,0 L-0.2,3.4 L-0.2,1.7 L-3.2,1.7 Z" fill="#7a0a88"/></g>
<g transform="translate(406.00,248.00) rotate(0)"><circle r="5.1" fill="#eddcff" stroke="#86148f" stroke-width="1.15"/><path d="M-3.2,-1.7 L-0.2,-1.7 L-0.2,-3.4 L3.3,0 L-0.2,3.4 L-0.2,1.7 L-3.2,1.7 Z" fill="#7a0a88"/></g>
<g transform="translate(406.00,260.40) rotate(0)"><circle r="5.1" fill="#eddcff" stroke="#86148f" stroke-width="1.15"/><path d="M-3.2,-1.7 L-0.2,-1.7 L-0.2,-3.4 L3.3,0 L-0.2,3.4 L-0.2,1.7 L-3.2,1.7 Z" fill="#7a0a88"/></g>
<g transform="translate(406.00,272.80) rotate(0)"><circle r="5.1" fill="#eddcff" stroke="#86148f" stroke-width="1.15"/><path d="M-3.2,-1.7 L-0.2,-1.7 L-0.2,-3.4 L3.3,0 L-0.2,3.4 L-0.2,1.7 L-3.2,1.7 Z" fill="#7a0a88"/></g>
<g transform="translate(406.00,285.20) rotate(0)"><circle r="5.1" fill="#eddcff" stroke="#86148f" stroke-width="1.15"/><path d="M-3.2,-1.7 L-0.2,-1.7 L-0.2,-3.4 L3.3,0 L-0.2,3.4 L-0.2,1.7 L-3.2,1.7 Z" fill="#7a0a88"/></g>
<g transform="translate(406.00,297.60) rotate(0)"><circle r="5.1" fill="#eddcff" stroke="#86148f" stroke-width="1.15"/><path d="M-3.2,-1.7 L-0.2,-1.7 L-0.2,-3.4 L3.3,0 L-0.2,3.4 L-0.2,1.7 L-3.2,1.7 Z" fill="#7a0a88"/></g>
<g transform="translate(406.00,310.00) rotate(0)"><circle r="5.1" fill="#eddcff" stroke="#86148f" stroke-width="1.15"/><path d="M-3.2,-1.7 L-0.2,-1.7 L-0.2,-3.4 L3.3,0 L-0.2,3.4 L-0.2,1.7 L-3.2,1.7 Z" fill="#7a0a88"/></g>
<g transform="translate(417.30,205.40) rotate(0)"><circle r="5.1" fill="#eddcff" stroke="#86148f" stroke-width="1.15"/><path d="M-3.2,-1.7 L-0.2,-1.7 L-0.2,-3.4 L3.3,0 L-0.2,3.4 L-0.2,1.7 L-3.2,1.7 Z" fill="#7a0a88"/></g>
<g transform="translate(417.30,217.80) rotate(0)"><circle r="5.1" fill="#eddcff" stroke="#86148f" stroke-width="1.15"/><path d="M-3.2,-1.7 L-0.2,-1.7 L-0.2,-3.4 L3.3,0 L-0.2,3.4 L-0.2,1.7 L-3.2,1.7 Z" fill="#7a0a88"/></g>
<g transform="translate(417.30,230.20) rotate(0)"><circle r="5.1" fill="#eddcff" stroke="#86148f" stroke-width="1.15"/><path d="M-3.2,-1.7 L-0.2,-1.7 L-0.2,-3.4 L3.3,0 L-0.2,3.4 L-0.2,1.7 L-3.2,1.7 Z" fill="#7a0a88"/></g>
<g transform="translate(417.30,242.60) rotate(0)"><circle r="5.1" fill="#eddcff" stroke="#86148f" stroke-width="1.15"/><path d="M-3.2,-1.7 L-0.2,-1.7 L-0.2,-3.4 L3.3,0 L-0.2,3.4 L-0.2,1.7 L-3.2,1.7 Z" fill="#7a0a88"/></g>
<g transform="translate(417.30,255.00) rotate(0)"><circle r="5.1" fill="#eddcff" stroke="#86148f" stroke-width="1.15"/><path d="M-3.2,-1.7 L-0.2,-1.7 L-0.2,-3.4 L3.3,0 L-0.2,3.4 L-0.2,1.7 L-3.2,1.7 Z" fill="#7a0a88"/></g>
<g transform="translate(417.30,267.40) rotate(0)"><circle r="5.1" fill="#eddcff" stroke="#86148f" stroke-width="1.15"/><path d="M-3.2,-1.7 L-0.2,-1.7 L-0.2,-3.4 L3.3,0 L-0.2,3.4 L-0.2,1.7 L-3.2,1.7 Z" fill="#7a0a88"/></g>
<g transform="translate(417.30,279.80) rotate(0)"><circle r="5.1" fill="#eddcff" stroke="#86148f" stroke-width="1.15"/><path d="M-3.2,-1.7 L-0.2,-1.7 L-0.2,-3.4 L3.3,0 L-0.2,3.4 L-0.2,1.7 L-3.2,1.7 Z" fill="#7a0a88"/></g>
<g transform="translate(417.30,292.20) rotate(0)"><circle r="5.1" fill="#eddcff" stroke="#86148f" stroke-width="1.15"/><path d="M-3.2,-1.7 L-0.2,-1.7 L-0.2,-3.4 L3.3,0 L-0.2,3.4 L-0.2,1.7 L-3.2,1.7 Z" fill="#7a0a88"/></g>
<g transform="translate(417.30,304.60) rotate(0)"><circle r="5.1" fill="#eddcff" stroke="#86148f" stroke-width="1.15"/><path d="M-3.2,-1.7 L-0.2,-1.7 L-0.2,-3.4 L3.3,0 L-0.2,3.4 L-0.2,1.7 L-3.2,1.7 Z" fill="#7a0a88"/></g>
<g transform="translate(383.40,210.80) rotate(0)"><circle r="5.1" fill="#eddcff" stroke="#86148f" stroke-width="1.15"/><path d="M-3.2,-1.7 L-0.2,-1.7 L-0.2,-3.4 L3.3,0 L-0.2,3.4 L-0.2,1.7 L-3.2,1.7 Z" fill="#7a0a88"/></g>
<g transform="translate(383.40,223.20) rotate(0)"><circle r="5.1" fill="#eddcff" stroke="#86148f" stroke-width="1.15"/><path d="M-3.2,-1.7 L-0.2,-1.7 L-0.2,-3.4 L3.3,0 L-0.2,3.4 L-0.2,1.7 L-3.2,1.7 Z" fill="#7a0a88"/></g>
<g transform="translate(383.40,235.60) rotate(0)"><circle r="5.1" fill="#eddcff" stroke="#86148f" stroke-width="1.15"/><path d="M-3.2,-1.7 L-0.2,-1.7 L-0.2,-3.4 L3.3,0 L-0.2,3.4 L-0.2,1.7 L-3.2,1.7 Z" fill="#7a0a88"/></g>
<g transform="translate(383.40,248.00) rotate(0)"><circle r="5.1" fill="#eddcff" stroke="#86148f" stroke-width="1.15"/><path d="M-3.2,-1.7 L-0.2,-1.7 L-0.2,-3.4 L3.3,0 L-0.2,3.4 L-0.2,1.7 L-3.2,1.7 Z" fill="#7a0a88"/></g>
<g transform="translate(383.40,260.40) rotate(0)"><circle r="5.1" fill="#eddcff" stroke="#86148f" stroke-width="1.15"/><path d="M-3.2,-1.7 L-0.2,-1.7 L-0.2,-3.4 L3.3,0 L-0.2,3.4 L-0.2,1.7 L-3.2,1.7 Z" fill="#7a0a88"/></g>
<g transform="translate(383.40,272.80) rotate(0)"><circle r="5.1" fill="#eddcff" stroke="#86148f" stroke-width="1.15"/><path d="M-3.2,-1.7 L-0.2,-1.7 L-0.2,-3.4 L3.3,0 L-0.2,3.4 L-0.2,1.7 L-3.2,1.7 Z" fill="#7a0a88"/></g>
<g transform="translate(383.40,285.20) rotate(0)"><circle r="5.1" fill="#eddcff" stroke="#86148f" stroke-width="1.15"/><path d="M-3.2,-1.7 L-0.2,-1.7 L-0.2,-3.4 L3.3,0 L-0.2,3.4 L-0.2,1.7 L-3.2,1.7 Z" fill="#7a0a88"/></g>
<g transform="translate(383.40,297.60) rotate(0)"><circle r="5.1" fill="#eddcff" stroke="#86148f" stroke-width="1.15"/><path d="M-3.2,-1.7 L-0.2,-1.7 L-0.2,-3.4 L3.3,0 L-0.2,3.4 L-0.2,1.7 L-3.2,1.7 Z" fill="#7a0a88"/></g>
<g transform="translate(383.40,310.00) rotate(0)"><circle r="5.1" fill="#eddcff" stroke="#86148f" stroke-width="1.15"/><path d="M-3.2,-1.7 L-0.2,-1.7 L-0.2,-3.4 L3.3,0 L-0.2,3.4 L-0.2,1.7 L-3.2,1.7 Z" fill="#7a0a88"/></g>
<g transform="translate(443.30,198.20) rotate(0)"><circle r="5.1" fill="#eddcff" stroke="#86148f" stroke-width="1.15"/><path d="M-3.2,-1.7 L-0.2,-1.7 L-0.2,-3.4 L3.3,0 L-0.2,3.4 L-0.2,1.7 L-3.2,1.7 Z" fill="#7a0a88"/></g>
<g transform="translate(443.30,210.60) rotate(160)"><circle r="5.1" fill="#eddcff" stroke="#86148f" stroke-width="1.15"/><path d="M-3.2,-1.7 L-0.2,-1.7 L-0.2,-3.4 L3.3,0 L-0.2,3.4 L-0.2,1.7 L-3.2,1.7 Z" fill="#7a0a88"/></g>
<g transform="translate(443.30,223.00) rotate(-160)"><circle r="5.1" fill="#eddcff" stroke="#86148f" stroke-width="1.15"/><path d="M-3.2,-1.7 L-0.2,-1.7 L-0.2,-3.4 L3.3,0 L-0.2,3.4 L-0.2,1.7 L-3.2,1.7 Z" fill="#7a0a88"/></g>
<g transform="translate(443.30,235.40) rotate(-45)"><circle r="5.1" fill="#eddcff" stroke="#86148f" stroke-width="1.15"/><path d="M-3.2,-1.7 L-0.2,-1.7 L-0.2,-3.4 L3.3,0 L-0.2,3.4 L-0.2,1.7 L-3.2,1.7 Z" fill="#7a0a88"/></g>
<g transform="translate(443.30,247.80) rotate(90)"><circle r="5.1" fill="#eddcff" stroke="#86148f" stroke-width="1.15"/><path d="M-3.2,-1.7 L-0.2,-1.7 L-0.2,-3.4 L3.3,0 L-0.2,3.4 L-0.2,1.7 L-3.2,1.7 Z" fill="#7a0a88"/></g>
<g transform="translate(443.30,260.20) rotate(160)"><circle r="5.1" fill="#eddcff" stroke="#86148f" stroke-width="1.15"/><path d="M-3.2,-1.7 L-0.2,-1.7 L-0.2,-3.4 L3.3,0 L-0.2,3.4 L-0.2,1.7 L-3.2,1.7 Z" fill="#7a0a88"/></g>
<g transform="translate(443.30,272.60) rotate(180)"><circle r="5.1" fill="#eddcff" stroke="#86148f" stroke-width="1.15"/><path d="M-3.2,-1.7 L-0.2,-1.7 L-0.2,-3.4 L3.3,0 L-0.2,3.4 L-0.2,1.7 L-3.2,1.7 Z" fill="#7a0a88"/></g>
<g transform="translate(443.30,285.00) rotate(-20)"><circle r="5.1" fill="#eddcff" stroke="#86148f" stroke-width="1.15"/><path d="M-3.2,-1.7 L-0.2,-1.7 L-0.2,-3.4 L3.3,0 L-0.2,3.4 L-0.2,1.7 L-3.2,1.7 Z" fill="#7a0a88"/></g>
<g transform="translate(443.30,297.40) rotate(160)"><circle r="5.1" fill="#eddcff" stroke="#86148f" stroke-width="1.15"/><path d="M-3.2,-1.7 L-0.2,-1.7 L-0.2,-3.4 L3.3,0 L-0.2,3.4 L-0.2,1.7 L-3.2,1.7 Z" fill="#7a0a88"/></g>
<g transform="translate(454.60,205.00) rotate(-90)"><circle r="5.1" fill="#eddcff" stroke="#86148f" stroke-width="1.15"/><path d="M-3.2,-1.7 L-0.2,-1.7 L-0.2,-3.4 L3.3,0 L-0.2,3.4 L-0.2,1.7 L-3.2,1.7 Z" fill="#7a0a88"/></g>
<g transform="translate(454.60,217.40) rotate(160)"><circle r="5.1" fill="#eddcff" stroke="#86148f" stroke-width="1.15"/><path d="M-3.2,-1.7 L-0.2,-1.7 L-0.2,-3.4 L3.3,0 L-0.2,3.4 L-0.2,1.7 L-3.2,1.7 Z" fill="#7a0a88"/></g>
<g transform="translate(454.60,229.80) rotate(-135)"><circle r="5.1" fill="#eddcff" stroke="#86148f" stroke-width="1.15"/><path d="M-3.2,-1.7 L-0.2,-1.7 L-0.2,-3.4 L3.3,0 L-0.2,3.4 L-0.2,1.7 L-3.2,1.7 Z" fill="#7a0a88"/></g>
<g transform="translate(454.60,242.20) rotate(180)"><circle r="5.1" fill="#eddcff" stroke="#86148f" stroke-width="1.15"/><path d="M-3.2,-1.7 L-0.2,-1.7 L-0.2,-3.4 L3.3,0 L-0.2,3.4 L-0.2,1.7 L-3.2,1.7 Z" fill="#7a0a88"/></g>
<g transform="translate(454.60,254.60) rotate(45)"><circle r="5.1" fill="#eddcff" stroke="#86148f" stroke-width="1.15"/><path d="M-3.2,-1.7 L-0.2,-1.7 L-0.2,-3.4 L3.3,0 L-0.2,3.4 L-0.2,1.7 L-3.2,1.7 Z" fill="#7a0a88"/></g>
<g transform="translate(454.60,267.00) rotate(-160)"><circle r="5.1" fill="#eddcff" stroke="#86148f" stroke-width="1.15"/><path d="M-3.2,-1.7 L-0.2,-1.7 L-0.2,-3.4 L3.3,0 L-0.2,3.4 L-0.2,1.7 L-3.2,1.7 Z" fill="#7a0a88"/></g>
<g transform="translate(454.60,279.40) rotate(0)"><circle r="5.1" fill="#eddcff" stroke="#86148f" stroke-width="1.15"/><path d="M-3.2,-1.7 L-0.2,-1.7 L-0.2,-3.4 L3.3,0 L-0.2,3.4 L-0.2,1.7 L-3.2,1.7 Z" fill="#7a0a88"/></g>
<g transform="translate(454.60,291.80) rotate(0)"><circle r="5.1" fill="#eddcff" stroke="#86148f" stroke-width="1.15"/><path d="M-3.2,-1.7 L-0.2,-1.7 L-0.2,-3.4 L3.3,0 L-0.2,3.4 L-0.2,1.7 L-3.2,1.7 Z" fill="#7a0a88"/></g>
<g transform="translate(454.60,304.20) rotate(30)"><circle r="5.1" fill="#eddcff" stroke="#86148f" stroke-width="1.15"/><path d="M-3.2,-1.7 L-0.2,-1.7 L-0.2,-3.4 L3.3,0 L-0.2,3.4 L-0.2,1.7 L-3.2,1.7 Z" fill="#7a0a88"/></g>
<g transform="translate(465.90,198.20) rotate(180)"><circle r="5.1" fill="#eddcff" stroke="#86148f" stroke-width="1.15"/><path d="M-3.2,-1.7 L-0.2,-1.7 L-0.2,-3.4 L3.3,0 L-0.2,3.4 L-0.2,1.7 L-3.2,1.7 Z" fill="#7a0a88"/></g>
<g transform="translate(465.90,210.60) rotate(-160)"><circle r="5.1" fill="#eddcff" stroke="#86148f" stroke-width="1.15"/><path d="M-3.2,-1.7 L-0.2,-1.7 L-0.2,-3.4 L3.3,0 L-0.2,3.4 L-0.2,1.7 L-3.2,1.7 Z" fill="#7a0a88"/></g>
<g transform="translate(465.90,223.00) rotate(-160)"><circle r="5.1" fill="#eddcff" stroke="#86148f" stroke-width="1.15"/><path d="M-3.2,-1.7 L-0.2,-1.7 L-0.2,-3.4 L3.3,0 L-0.2,3.4 L-0.2,1.7 L-3.2,1.7 Z" fill="#7a0a88"/></g>
<g transform="translate(465.90,235.40) rotate(180)"><circle r="5.1" fill="#eddcff" stroke="#86148f" stroke-width="1.15"/><path d="M-3.2,-1.7 L-0.2,-1.7 L-0.2,-3.4 L3.3,0 L-0.2,3.4 L-0.2,1.7 L-3.2,1.7 Z" fill="#7a0a88"/></g>
<g transform="translate(465.90,247.80) rotate(135)"><circle r="5.1" fill="#eddcff" stroke="#86148f" stroke-width="1.15"/><path d="M-3.2,-1.7 L-0.2,-1.7 L-0.2,-3.4 L3.3,0 L-0.2,3.4 L-0.2,1.7 L-3.2,1.7 Z" fill="#7a0a88"/></g>
<g transform="translate(465.90,260.20) rotate(-20)"><circle r="5.1" fill="#eddcff" stroke="#86148f" stroke-width="1.15"/><path d="M-3.2,-1.7 L-0.2,-1.7 L-0.2,-3.4 L3.3,0 L-0.2,3.4 L-0.2,1.7 L-3.2,1.7 Z" fill="#7a0a88"/></g>
<g transform="translate(465.90,272.60) rotate(-45)"><circle r="5.1" fill="#eddcff" stroke="#86148f" stroke-width="1.15"/><path d="M-3.2,-1.7 L-0.2,-1.7 L-0.2,-3.4 L3.3,0 L-0.2,3.4 L-0.2,1.7 L-3.2,1.7 Z" fill="#7a0a88"/></g>
<g transform="translate(465.90,285.00) rotate(0)"><circle r="5.1" fill="#eddcff" stroke="#86148f" stroke-width="1.15"/><path d="M-3.2,-1.7 L-0.2,-1.7 L-0.2,-3.4 L3.3,0 L-0.2,3.4 L-0.2,1.7 L-3.2,1.7 Z" fill="#7a0a88"/></g>
<g transform="translate(465.90,297.40) rotate(-20)"><circle r="5.1" fill="#eddcff" stroke="#86148f" stroke-width="1.15"/><path d="M-3.2,-1.7 L-0.2,-1.7 L-0.2,-3.4 L3.3,0 L-0.2,3.4 L-0.2,1.7 L-3.2,1.7 Z" fill="#7a0a88"/></g>
<g transform="translate(477.20,205.00) rotate(-45)"><circle r="5.1" fill="#eddcff" stroke="#86148f" stroke-width="1.15"/><path d="M-3.2,-1.7 L-0.2,-1.7 L-0.2,-3.4 L3.3,0 L-0.2,3.4 L-0.2,1.7 L-3.2,1.7 Z" fill="#7a0a88"/></g>
<g transform="translate(477.20,217.40) rotate(-160)"><circle r="5.1" fill="#eddcff" stroke="#86148f" stroke-width="1.15"/><path d="M-3.2,-1.7 L-0.2,-1.7 L-0.2,-3.4 L3.3,0 L-0.2,3.4 L-0.2,1.7 L-3.2,1.7 Z" fill="#7a0a88"/></g>
<g transform="translate(477.20,229.80) rotate(135)"><circle r="5.1" fill="#eddcff" stroke="#86148f" stroke-width="1.15"/><path d="M-3.2,-1.7 L-0.2,-1.7 L-0.2,-3.4 L3.3,0 L-0.2,3.4 L-0.2,1.7 L-3.2,1.7 Z" fill="#7a0a88"/></g>
<g transform="translate(477.20,242.20) rotate(30)"><circle r="5.1" fill="#eddcff" stroke="#86148f" stroke-width="1.15"/><path d="M-3.2,-1.7 L-0.2,-1.7 L-0.2,-3.4 L3.3,0 L-0.2,3.4 L-0.2,1.7 L-3.2,1.7 Z" fill="#7a0a88"/></g>
<g transform="translate(477.20,254.60) rotate(-135)"><circle r="5.1" fill="#eddcff" stroke="#86148f" stroke-width="1.15"/><path d="M-3.2,-1.7 L-0.2,-1.7 L-0.2,-3.4 L3.3,0 L-0.2,3.4 L-0.2,1.7 L-3.2,1.7 Z" fill="#7a0a88"/></g>
<g transform="translate(477.20,267.00) rotate(-20)"><circle r="5.1" fill="#eddcff" stroke="#86148f" stroke-width="1.15"/><path d="M-3.2,-1.7 L-0.2,-1.7 L-0.2,-3.4 L3.3,0 L-0.2,3.4 L-0.2,1.7 L-3.2,1.7 Z" fill="#7a0a88"/></g>
<g transform="translate(477.20,279.40) rotate(-90)"><circle r="5.1" fill="#eddcff" stroke="#86148f" stroke-width="1.15"/><path d="M-3.2,-1.7 L-0.2,-1.7 L-0.2,-3.4 L3.3,0 L-0.2,3.4 L-0.2,1.7 L-3.2,1.7 Z" fill="#7a0a88"/></g>
<g transform="translate(477.20,291.80) rotate(-45)"><circle r="5.1" fill="#eddcff" stroke="#86148f" stroke-width="1.15"/><path d="M-3.2,-1.7 L-0.2,-1.7 L-0.2,-3.4 L3.3,0 L-0.2,3.4 L-0.2,1.7 L-3.2,1.7 Z" fill="#7a0a88"/></g>
<g transform="translate(477.20,304.20) rotate(160)"><circle r="5.1" fill="#eddcff" stroke="#86148f" stroke-width="1.15"/><path d="M-3.2,-1.7 L-0.2,-1.7 L-0.2,-3.4 L3.3,0 L-0.2,3.4 L-0.2,1.7 L-3.2,1.7 Z" fill="#7a0a88"/></g>
</g>
<path d="M424.4,251.7 L436.4,251.7 M432.9,248.6 L436.4,251.7 L432.9,254.8" fill="none" stroke="#7d0a8c" stroke-width="0.9"/>
<circle cx="430.3" cy="251.9" r="38.6" fill="none" stroke="#8e1c9e" stroke-width="1"/>
<text x="429.6" y="197.3" font-size="8.6" text-anchor="middle" fill="#8e1c9e" stroke="#8e1c9e" stroke-width="0.22">Solid to</text>
<text x="429.6" y="207.5" font-size="8.6" text-anchor="middle" fill="#8e1c9e" stroke="#8e1c9e" stroke-width="0.22">solid</text>
</svg>
</body></html>
